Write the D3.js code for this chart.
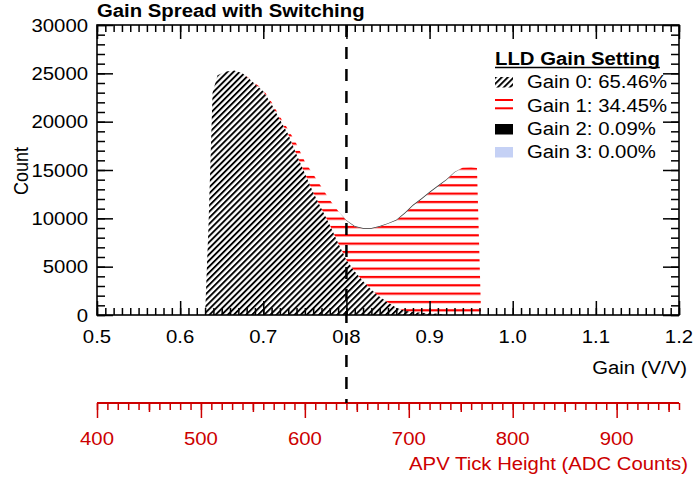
<!DOCTYPE html>
<html>
<head>
<meta charset="utf-8">
<script src="https://cdn.jsdelivr.net/npm/d3@7"></script>
<style>
	body { margin: 0; background: #fff; }
	svg { display: block; font-family: "Liberation Sans", Arial, sans-serif; }
</style>
</head>
<body>
<div id="chart"></div>
<script>
// histogram bin centres (gain, V/V) and counts per LLD gain setting
const gainBins = [0.630, 0.634, 0.639, 0.645, 0.655, 0.665, 0.675, 0.683, 0.69, 0.70, 0.71, 0.72, 0.73, 0.74, 0.75, 0.76, 0.77, 0.78, 0.79, 0.80,
	0.81, 0.82, 0.83, 0.84, 0.85, 0.86, 0.87, 0.88, 0.89, 0.90, 0.91, 0.92, 0.93, 0.94, 0.95, 0.957, 0.962];
const gain0 = [0, 9000, 23000, 24800, 25200, 25300, 25000, 24450, 23900, 23150, 21800, 20200, 18700, 16600, 14650, 12700, 11000, 9300, 7450, 5700,
	4500, 3500, 2600, 1900, 1300, 750, 450, 300, 220, 180, 120, 0, 0, 0, 0, 0, 0];
const gain1 = [0, 0, 0, 0, 0, 0, 0, 50, 100, 150, 200, 300, 500, 1100, 1200, 1850, 2250, 2600, 3300, 4050,
	4630, 5430, 6330, 7230, 8130, 9030, 10020, 10990, 11720, 12460, 13170, 13930, 14740, 15250, 15300, 15200, 0];
const gain2 = [0, 0, 0, 0, 0, 0, 0, 0, 0, 0, 0, 0, 0, 0, 0, 0, 0, 0, 0, 50,
	70, 70, 70, 70, 70, 70, 100, 110, 110, 110, 110, 90, 60, 0, 0, 0, 0];

const gainTicks = [0.5, 0.6, 0.7, 0.8, 0.9, 1.0, 1.1, 1.2];
const countTicks = [0, 5000, 10000, 15000, 20000, 25000, 30000];
const adcTicks = [400, 500, 600, 700, 800, 900];
const legendLabels = ['Gain 0: 65.46%', 'Gain 1: 34.45%', 'Gain 2: 0.09%', 'Gain 3: 0.00%'];
const switchGain = 0.8;

const W = 697, H = 485;
const box = { left: 97, right: 679, top: 25, bot: 315, adcY: 403 };
const SX = 1.13; // text is a bit wider than Arial in the original
const RED = '#cc0000';

const svg = d3.select('#chart').append('svg').attr('width', W).attr('height', H);

const x = d3.scaleLinear().domain([0.5, 1.2]).range([box.left, box.right]);
const y = d3.scaleLinear().domain([0, 30000]).range([box.bot, box.top]);
const adc = d3.scaleLinear().domain([400, 960]).range([box.left, box.right]);

// fill patterns
const defs = svg.append('defs');
defs.append('pattern')
	.attr('id', 'hatch0')
	.attr('patternUnits', 'userSpaceOnUse')
	.attr('width', 4.3).attr('height', 4.3)
	.attr('patternTransform', 'rotate(45)')
	.append('rect')
	.attr('width', 1.9).attr('height', 4.3)
	.attr('fill', '#000');
defs.append('pattern')
	.attr('id', 'hatch1')
	.attr('patternUnits', 'userSpaceOnUse')
	.attr('width', 10).attr('height', 8.333)
	.append('rect')
	.attr('y', 0.9).attr('width', 10).attr('height', 2.2)
	.attr('fill', '#ff0000');

// stacked areas
const rows = gainBins.map((g, i) => ({ g: g, g0: gain0[i], g1: gain1[i], g2: gain2[i] }));
const series = d3.stack().keys(['g0', 'g1', 'g2'])(rows);
const fills = { g0: 'url(#hatch0)', g1: 'url(#hatch1)', g2: '#333' };

const area = d3.area()
	.x((d) => x(d.data.g))
	.y0((d) => y(d[0]))
	.y1((d) => y(d[1]));

svg.append('g')
	.selectAll('path')
	.data(series)
	.enter()
	.append('path')
	.attr('d', area)
	.attr('fill', (d) => fills[d.key]);

// tick helper, ticks point inwards
function ticks(axisFn, scale, vals, size, tx, ty, color){
	svg.append('g')
		.attr('transform', 'translate(' + tx + ',' + ty + ')')
		.call(axisFn(scale).tickValues(vals).tickSize(size).tickSizeOuter(0).tickFormat(''))
		.call((g) => g.select('.domain').remove())
		.selectAll('line')
		.attr('stroke', color)
		.attr('stroke-width', 1.5);
}

const gainMinor = d3.range(50, 121).map((v) => v / 100);
const countMinor = d3.range(0, 31).map((v) => v * 1000);

ticks(d3.axisBottom, x, gainMinor, -7, 0, box.bot, '#000');
ticks(d3.axisBottom, x, gainTicks, -14, 0, box.bot, '#000');
ticks(d3.axisTop, x, gainMinor, -7, 0, box.top, '#000');
ticks(d3.axisTop, x, gainTicks, -14, 0, box.top, '#000');
ticks(d3.axisLeft, y, countMinor, -8, box.left, 0, '#000');
ticks(d3.axisLeft, y, countTicks, -16, box.left, 0, '#000');
ticks(d3.axisRight, y, countMinor, -8, box.right, 0, '#000');
ticks(d3.axisRight, y, countTicks, -16, box.right, 0, '#000');

// frame
svg.append('rect')
	.attr('x', box.left).attr('y', box.top)
	.attr('width', box.right - box.left).attr('height', box.bot - box.top)
	.attr('fill', 'none')
	.attr('stroke', '#000')
	.attr('stroke-width', 1.6);

// secondary ADC axis
const adcMinor = d3.range(40, 97).map((v) => v * 10);
const adcMid = [450, 550, 650, 750, 850, 950];
ticks(d3.axisBottom, adc, adcMinor, 7, 0, box.adcY, RED);
ticks(d3.axisBottom, adc, adcMid, 9, 0, box.adcY, RED);
ticks(d3.axisBottom, adc, adcTicks, 15, 0, box.adcY, RED);
svg.append('line')
	.attr('x1', adc(400)).attr('x2', adc(960))
	.attr('y1', box.adcY).attr('y2', box.adcY)
	.attr('stroke', RED)
	.attr('stroke-width', 1.8);

function label(str, tx, ty, opts){
	opts = opts || {};
	return svg.append('text')
		.attr('transform', 'translate(' + tx + ',' + ty + ') scale(' + SX + ',1)' + (opts.rot ? ' rotate(' + opts.rot + ')' : ''))
		.attr('text-anchor', opts.anchor || 'start')
		.attr('font-size', opts.size || 18)
		.attr('font-weight', opts.bold ? 'bold' : 'normal')
		.attr('fill', opts.color || '#000')
		.text(str);
}

countTicks.forEach((v) => label(String(v), 88, y(v) + 6.5, { anchor: 'end' }));
gainTicks.forEach((v) => label(d3.format('.1f')(v), x(v), 343, { anchor: 'middle' }));
adcTicks.forEach((v) => label(String(v), adc(v), 445, { anchor: 'middle', color: RED }));

label('Gain Spread with Switching', box.left, 17, { bold: true });
label('Count', 28, 171, { anchor: 'middle', rot: -90 });
label('Gain (V/V)', 687, 374, { anchor: 'end' });
label('APV Tick Height (ADC Counts)', 688, 470, { anchor: 'end', color: RED });

// switching threshold
svg.append('line')
	.attr('x1', x(switchGain)).attr('x2', x(switchGain))
	.attr('y1', box.top).attr('y2', box.adcY)
	.attr('stroke', '#000')
	.attr('stroke-width', 2.5)
	.attr('stroke-dasharray', '12,10');

// legend
const lg = { x: 495, tx: 527, rows: [88, 111.5, 135, 158] };
const lt = label('LLD Gain Setting', lg.x, 65, { bold: true });
const ltw = lt.node().getComputedTextLength() * SX;
svg.append('line')
	.attr('x1', lg.x).attr('x2', lg.x + ltw)
	.attr('y1', 67.5).attr('y2', 67.5)
	.attr('stroke', '#000')
	.attr('stroke-width', 1.6);

legendLabels.forEach((t, i) => {
	let by = lg.rows[i];
	label(t, lg.tx, by);
	if (i == 1) {
		[by - 11.5, by - 3.2].forEach((ly) => {
			svg.append('line')
				.attr('x1', lg.x).attr('x2', lg.x + 18)
				.attr('y1', ly).attr('y2', ly)
				.attr('stroke', '#ff0000')
				.attr('stroke-width', 2);
		});
	} else {
		svg.append('rect')
			.attr('x', lg.x).attr('y', by - 11)
			.attr('width', 18).attr('height', 10.5)
			.attr('fill', ['url(#hatch0)', null, '#000', '#c5d1f5'][i]);
	}
});
</script>
</body>
</html>
